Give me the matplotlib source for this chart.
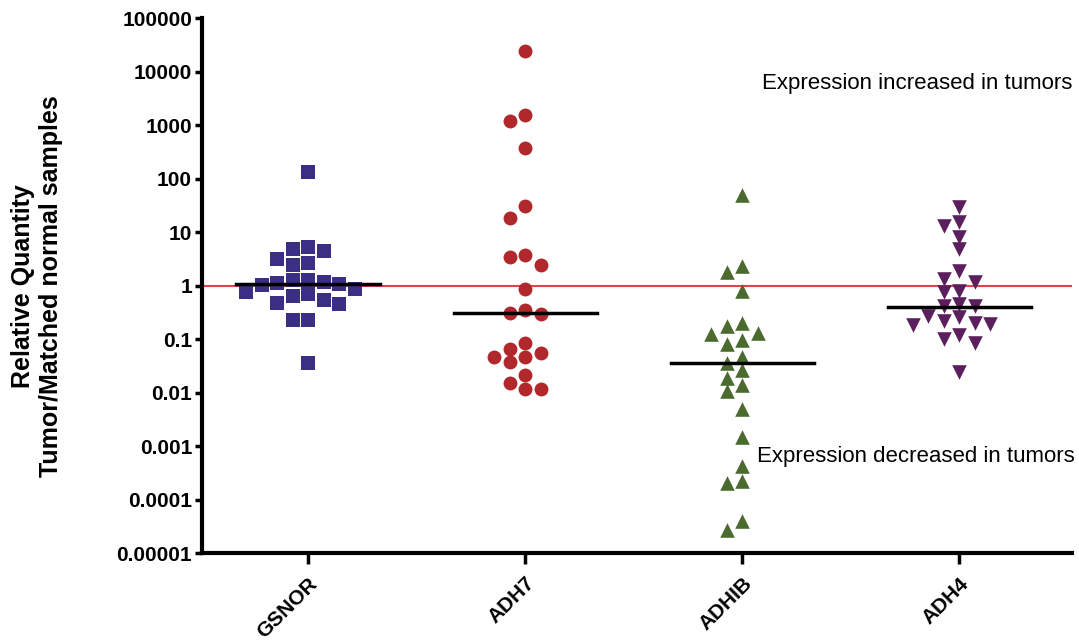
import matplotlib
matplotlib.use('Agg')
import matplotlib.pyplot as plt
import numpy as np

plt.rcParams['font.family'] = ['Liberation Sans', 'DejaVu Sans']

genes = ['GSNOR', 'ADH7', 'ADHIB', 'ADH4']

gsnor = [133, 5.2, 4.8, 4.4, 3.1, 2.6, 2.4, 1.27, 1.27, 1.15, 1.11, 1.07,
         1.02, 0.86, 0.745, 0.69, 0.63, 0.54, 0.47, 0.45, 0.23, 0.23, 0.035]
adh7 = [24300, 1535, 1180, 380, 31, 18.7, 3.7, 3.47, 2.4, 0.86, 0.347, 0.31,
        0.29, 0.086, 0.066, 0.056, 0.046, 0.046, 0.038, 0.021, 0.0153, 0.0115, 0.0115]
adhib = [50, 2.35, 1.77, 0.8, 0.204, 0.176, 0.128, 0.123, 0.095, 0.08, 0.046, 0.036,
         0.026, 0.019, 0.0136, 0.0107, 0.005, 0.0015, 0.00043, 0.00022, 0.0002,
         0.000039, 0.000027]
adh4 = [29, 15.7, 13.2, 8.2, 4.8, 1.9, 1.32, 1.18, 0.8, 0.745, 0.45, 0.42,
        0.41, 0.27, 0.26, 0.22, 0.204, 0.195, 0.18, 0.118, 0.1, 0.086, 0.024]
medians = [1.05, 0.31, 0.036, 0.39]

y_ticks = [1e5, 1e4, 1e3, 1e2, 1e1, 1, 1e-1, 1e-2, 1e-3, 1e-4, 1e-5]
y_tick_labels = ['100000', '10000', '1000', '100', '10', '1', '0.1', '0.01',
                 '0.001', '0.0001', '0.00001']

series = [gsnor, adh7, adhib, adh4]
markers = ['s', 'o', '^', 'v']
colors = ['#3a2e85', '#b0282c', '#4a6a2e', '#5c1f5e']
msize = [9.5, 10, 10.5, 10.5]


# simple beeswarm in display pixels, steps of half a marker
def swarm_x(ax, xc, vals, d):
    vals = np.asarray(vals, dtype=float)
    pts = ax.transData.transform(np.column_stack([np.full(len(vals), xc), vals]))
    order = np.argsort(-vals, kind='stable')
    cands = [0] + [s * j for j in range(1, 30) for s in (-1, 1)]
    placed = []
    xs = np.zeros(len(vals))
    for i in order:
        y = pts[i, 1]
        for c in cands:
            x = pts[i, 0] + c * d / 2
            ok = True
            for px, py in placed:
                if abs(x - px) < d * 0.97 and abs(y - py) < d * 0.8:
                    ok = False
                    break
            if ok:
                break
        placed.append((x, y))
        xs[i] = x
    back = ax.transData.inverted().transform(np.column_stack([xs, pts[:, 1]]))
    return back[:, 0]


fig = plt.figure(figsize=(10.79, 6.42), dpi=100)
ax = fig.add_axes([0.187, 0.1386, 0.8065, 0.833])
ax.set_yscale('log')
ax.set_ylim(1e-5, 1e5)
ax.set_xlim(-0.49, 3.52)

for i, vals in enumerate(series):
    xs = swarm_x(ax, i, vals, 15.5)
    ax.scatter(xs, vals, marker=markers[i], s=msize[i] ** 2, c=colors[i],
               linewidths=0, zorder=3)
    ax.plot([i - 0.33, i + 0.33], [medians[i], medians[i]], color='black',
            lw=2.5, zorder=4)

ax.axhline(1, color='#e8404a', lw=1.5, zorder=2)

ax.set_yticks(y_ticks)
ax.set_yticklabels(y_tick_labels, fontsize=15, fontweight='bold')
ax.yaxis.set_minor_locator(matplotlib.ticker.NullLocator())
ax.set_xticks(range(len(genes)))
ax.set_xticklabels(genes, fontsize=15, fontweight='bold', rotation=45,
                   ha='right', va='top', rotation_mode='anchor')

ax.tick_params(axis='y', length=5, width=2.5, pad=2)
ax.tick_params(axis='x', length=8, width=2.5, pad=7)

for side in ['top', 'right']:
    ax.spines[side].set_visible(False)
for side in ['left', 'bottom']:
    ax.spines[side].set_linewidth(3)

ax.set_ylabel('Relative Quantity\nTumor/Matched normal samples', fontsize=18,
              fontweight='bold', linespacing=1.25)
ax.yaxis.set_label_coords(-0.159, 0.5)

ax.text(2.09, 6000, 'Expression increased in tumors', fontsize=16, va='center')
ax.text(2.07, 6.3e-4, 'Expression decreased in tumors', fontsize=16, va='center')

fig.savefig('out.png', dpi=100)
